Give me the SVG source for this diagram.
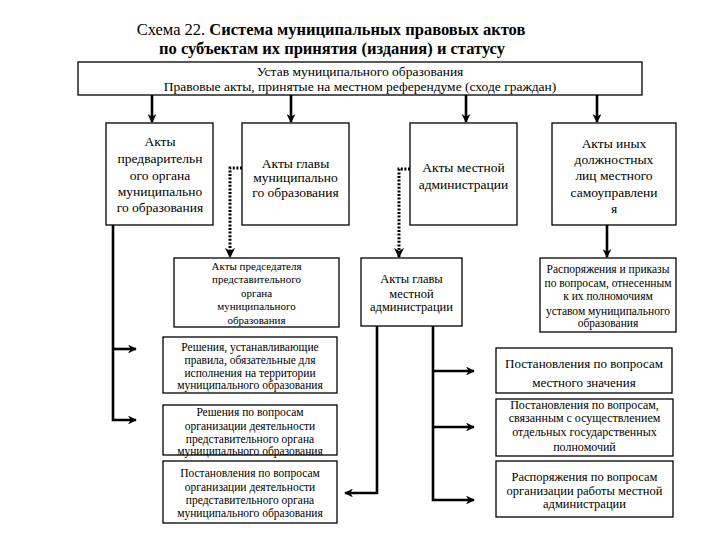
<svg xmlns="http://www.w3.org/2000/svg" width="720" height="540" viewBox="0 0 720 540" font-family="'Liberation Serif', 'Times New Roman', 'DejaVu Serif', serif">
<style>
text{font-family:'Liberation Serif','Times New Roman','DejaVu Serif',serif;fill:#000;text-anchor:middle}
.title{font-size:16.5px}
.b{font-weight:bold}
.box{fill:#fff;stroke:#000;stroke-width:1.3}
.t13{font-size:13.5px}
.t12{font-size:12.5px}
.t125{font-size:13px}
.t115{font-size:12px}
.t11{font-size:11.5px}
.t105{font-size:11px}
.solid{fill:none;stroke:#000;stroke-width:2.6}
.dot{fill:none;stroke:#000;stroke-width:3;stroke-dasharray:2 1.6}
</style>
<defs>
<marker id="ah" viewBox="0 0 10 10" refX="9" refY="5" markerWidth="3.4" markerHeight="3.4" orient="auto" markerUnits="strokeWidth">
<path d="M0,0 L10,5 L0,10 L3,5 z" fill="#000"/>
</marker>
</defs>
<rect width="720" height="540" fill="#fff"/>
<g id="title">
<text class="title" x="331" y="35">Схема 22. <tspan class="b">Система муниципальных правовых актов</tspan></text>
<text class="title b" x="332" y="54">по субъектам их принятия (издания) и статусу</text>
</g>
<g id="connectors">
<path class="solid" d="M152,95 V122" marker-end="url(#ah)"/>
<path class="solid" d="M291,95 V122" marker-end="url(#ah)"/>
<path class="solid" d="M466,95 V122" marker-end="url(#ah)"/>
<path class="solid" d="M597,95 V122" marker-end="url(#ah)"/>
<path class="dot" d="M242,168 H230 V257" marker-end="url(#ah)"/>
<path class="dot" d="M410,169 H399 V257" marker-end="url(#ah)"/>
<path class="solid" d="M607,225 V257" marker-end="url(#ah)"/>
<path class="solid" d="M113,225 V420 H136" marker-end="url(#ah)"/>
<path class="solid" d="M113,349 H136" marker-end="url(#ah)"/>
<path class="solid" d="M377,326 V493 H345" marker-end="url(#ah)"/>
<path class="solid" d="M433,326 V500 H474" marker-end="url(#ah)"/>
<path class="solid" d="M433,371 H474" marker-end="url(#ah)"/>
<path class="solid" d="M433,427 H474" marker-end="url(#ah)"/>
</g>
<g id="ustav">
<rect class="box" x="78" y="62" width="564" height="33"/>
<text class="t13" x="360" y="76">Устав муниципального образования</text>
<text class="t13" x="360" y="91">Правовые акты, принятые на местном референдуме (сходе граждан)</text>
</g>
<g id="akty-predst">
<rect class="box" x="106" y="123" width="107" height="102"/>
<text class="t13" x="160" y="146">Акты</text>
<text class="t13" x="160" y="163">предварительн</text>
<text class="t13" x="160" y="179.5">ого органа</text>
<text class="t13" x="160" y="196">муниципально</text>
<text class="t13" x="160" y="212">го образования</text>
</g>
<g id="akty-glavy-mo">
<rect class="box" x="242" y="123" width="107" height="102"/>
<text class="t13" x="295.5" y="167.5">Акты главы</text>
<text class="t13" x="295.5" y="182">муниципально</text>
<text class="t13" x="295.5" y="196.5">го образования</text>
</g>
<g id="akty-admin">
<rect class="box" x="410" y="123" width="107" height="102"/>
<text class="t13" x="463.5" y="171.5">Акты местной</text>
<text class="t13" x="463.5" y="188.5">администрации</text>
</g>
<g id="akty-inyh">
<rect class="box" x="552" y="123" width="124" height="102"/>
<text class="t13" x="614" y="147.5">Акты иных</text>
<text class="t13" x="614" y="164">должностных</text>
<text class="t13" x="614" y="180">лиц местного</text>
<text class="t13" x="614" y="196.5">самоуправлени</text>
<text class="t13" x="614" y="213">я</text>
</g>
<g id="akty-predsedatelya">
<rect class="box" x="174" y="258" width="165" height="69"/>
<text class="t105" x="256.5" y="270">Акты председателя</text>
<text class="t105" x="256.5" y="283">представительного</text>
<text class="t105" x="256.5" y="296.5">органа</text>
<text class="t105" x="256.5" y="310">муниципального</text>
<text class="t105" x="256.5" y="323.5">образования</text>
</g>
<g id="akty-glavy-admin">
<rect class="box" x="361" y="258" width="101" height="68"/>
<text class="t12" x="411.5" y="283">Акты главы</text>
<text class="t12" x="411.5" y="297.5">местной</text>
<text class="t12" x="411.5" y="311">администрации</text>
</g>
<g id="rasporyazheniya-prikazy">
<rect class="box" x="540" y="258" width="136" height="74"/>
<text class="t11" x="608" y="273">Распоряжения и приказы</text>
<text class="t11" x="608" y="287">по вопросам, отнесенным</text>
<text class="t11" x="608" y="300">к их полномочиям</text>
<text class="t11" x="608" y="314.5">уставом муниципального</text>
<text class="t11" x="608" y="327">образования</text>
</g>
<g id="resheniya-pravila">
<rect class="box" x="163" y="337" width="174" height="56"/>
<text class="t11" x="250" y="351">Решения, устанавливающие</text>
<text class="t11" x="250" y="364">правила, обязательные для</text>
<text class="t11" x="250" y="377">исполнения на территории</text>
<text class="t11" x="250" y="389">муниципального образования</text>
</g>
<g id="resheniya-organizacii">
<rect class="box" x="163" y="405" width="174" height="50"/>
<text class="t11" x="250" y="416">Решения по вопросам</text>
<text class="t11" x="250" y="430">организации деятельности</text>
<text class="t11" x="250" y="442.5">представительного органа</text>
<text class="t11" x="250" y="455">муниципального образования</text>
</g>
<g id="postanovleniya-organa">
<rect class="box" x="163" y="461" width="174" height="62"/>
<text class="t11" x="250" y="477">Постановления по вопросам</text>
<text class="t11" x="250" y="491">организации деятельности</text>
<text class="t11" x="250" y="504">представительного органа</text>
<text class="t11" x="250" y="517">муниципального образования</text>
</g>
<g id="postanovleniya-mestnogo">
<rect class="box" x="496" y="348" width="176" height="45"/>
<text class="t125" x="584" y="367.5">Постановления по вопросам</text>
<text class="t125" x="584" y="386.5">местного значения</text>
</g>
<g id="postanovleniya-gos">
<rect class="box" x="496" y="399" width="177" height="57"/>
<text class="t115" x="584.5" y="409">Постановления по вопросам,</text>
<text class="t115" x="584.5" y="422">связанным с осуществлением</text>
<text class="t115" x="584.5" y="436">отдельных государственных</text>
<text class="t115" x="584.5" y="451">полномочий</text>
</g>
<g id="rasporyazheniya-raboty">
<rect class="box" x="496" y="461" width="177" height="56"/>
<text class="t12" x="584.5" y="481">Распоряжения по вопросам</text>
<text class="t12" x="584.5" y="494.5">организации работы местной</text>
<text class="t12" x="584.5" y="508">администрации</text>
</g>
</svg>
